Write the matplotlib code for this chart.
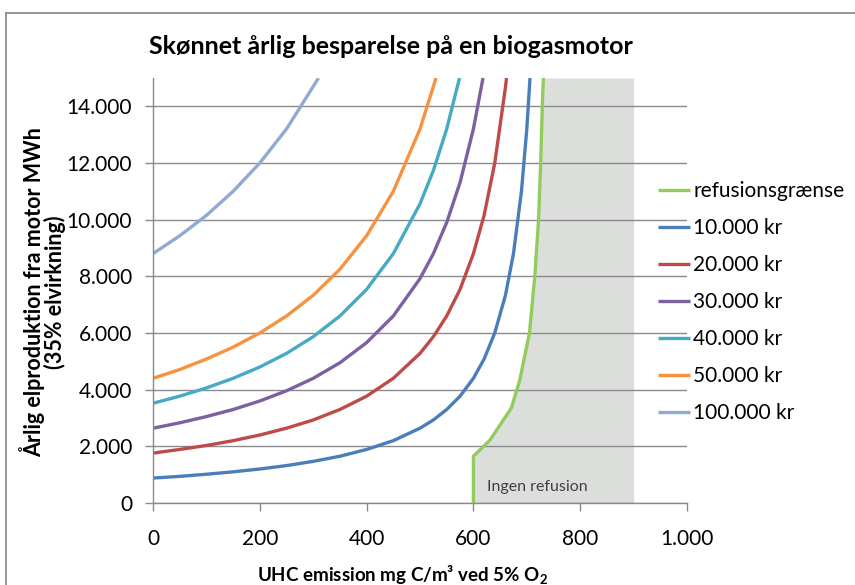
import matplotlib
matplotlib.use('Agg')
import matplotlib.pyplot as plt
from matplotlib.ticker import FuncFormatter, MultipleLocator
from matplotlib.lines import Line2D

plt.rcParams['font.family'] = ['Lato', 'DejaVu Sans']
plt.rcParams['mathtext.fontset'] = 'custom'
plt.rcParams['mathtext.rm'] = 'Lato'
plt.rcParams['mathtext.bf'] = 'Lato:bold'

# ---- data ----
# refusion limit (green) and the area right of it
green_x = [600, 600, 631, 671, 687, 705, 715, 722, 726, 729, 731]
green_y = [0, 1650, 2220, 3350, 4350, 6000, 8000, 10000, 12000, 14000, 15000]
shade_right = 900

# UHC emission values and annual el-production for each saving level
x10 = [0, 50, 100, 150, 200, 250, 300, 350, 400, 450, 500, 525, 550, 575, 600, 620, 640, 660, 675, 690, 700, 706]
y10 = [880, 940, 1015, 1100, 1200, 1320, 1470, 1650, 1890, 2200, 2640, 2930, 3300, 3770, 4400, 5080, 6000, 7330, 8800, 11000, 13200, 15000]

x20 = [0, 50, 100, 150, 200, 250, 300, 350, 400, 450, 500, 525, 550, 575, 600, 620, 640, 660, 662]
y20 = [1760, 1890, 2030, 2200, 2400, 2640, 2930, 3300, 3770, 4400, 5280, 5870, 6600, 7540, 8800, 10150, 12000, 14670, 15000]

x30 = [0, 50, 100, 150, 200, 250, 300, 350, 400, 450, 500, 525, 550, 575, 600, 618]
y30 = [2640, 2830, 3050, 3300, 3600, 3960, 4400, 4950, 5660, 6600, 7920, 8800, 9900, 11310, 13200, 15000]

x40 = [0, 50, 100, 150, 200, 250, 300, 350, 400, 450, 500, 525, 550, 574]
y40 = [3520, 3770, 4060, 4400, 4800, 5280, 5870, 6600, 7540, 8800, 10560, 11730, 13200, 15000]

x50 = [0, 50, 100, 150, 200, 250, 300, 350, 400, 450, 500, 530]
y50 = [4400, 4710, 5080, 5500, 6000, 6600, 7330, 8250, 9430, 11000, 13200, 15000]

x100 = [0, 50, 100, 150, 200, 250, 310]
y100 = [8800, 9430, 10150, 11000, 12000, 13200, 15000]

labels = ['refusionsgrænse', '10.000 kr', '20.000 kr', '30.000 kr',
          '40.000 kr', '50.000 kr', '100.000 kr']
colors = ['#92cc5c', '#4a7ebb', '#be4b48', '#7d60a0', '#46aac5', '#f69240', '#8eabd3']

fig = plt.figure(figsize=(8.55, 5.85), dpi=100)
ax = fig.add_axes([153/855, 1-503/585, (687-153)/855, (503-78)/585])

# outer chart frame (top and left edges visible)
fig.add_artist(Line2D([6/855, 6/855], [0, 1-13/585], color='#8c8c8c', lw=1.3, transform=fig.transFigure))
fig.add_artist(Line2D([6/855, 1], [1-13/585, 1-13/585], color='#8c8c8c', lw=1.3, transform=fig.transFigure))

ax.fill_betweenx(green_y, green_x, shade_right, color='#dcdedc', lw=0, zorder=0.2)

series = [(green_x, green_y), (x10, y10), (x20, y20), (x30, y30),
          (x40, y40), (x50, y50), (x100, y100)]
for (xs, ys), c, lab in zip(series, colors, labels):
    ax.plot(xs, ys, color=c, lw=2.4, label=lab, solid_capstyle='butt', zorder=2)

ax.text(625, 560, 'Ingen refusion', fontsize=11.5, color='#404040', va='center', ha='left')

ax.set_xlim(0, 1000)
ax.set_ylim(0, 15000)
ax.xaxis.set_major_locator(MultipleLocator(200))
ax.yaxis.set_major_locator(MultipleLocator(2000))
fmt = FuncFormatter(lambda v, p: f'{int(v):,}'.replace(',', '.'))
ax.xaxis.set_major_formatter(fmt)
ax.yaxis.set_major_formatter(fmt)
ax.set_axisbelow(True)
ax.grid(True, axis='y', color='#8a8a8a', lw=1.0)
for s in ['top', 'right']:
    ax.spines[s].set_visible(False)
for s in ['left', 'bottom']:
    ax.spines[s].set_color('#8a8a8a')
    ax.spines[s].set_linewidth(1.0)
ax.tick_params(axis='both', colors='#8a8a8a', labelcolor='black', labelsize=15, length=6, width=1.0)
ax.tick_params(axis='x', pad=13)
ax.tick_params(axis='y', pad=9)

fig.text(149/855, 1-47/585, 'Skønnet årlig besparelse på en biogasmotor',
         fontsize=18, fontweight='bold', ha='left', va='center')
fig.text(32/855, 1-292/585, 'Årlig elproduktion fra motor MWh',
         fontsize=15.5, fontweight='bold', rotation=90, ha='center', va='center')
fig.text(55/855, 1-292/585, '(35% elvirkning)',
         fontsize=15.5, fontweight='bold', rotation=90, ha='center', va='center')
fig.text(402/855, 1-575/585, r'UHC emission mg C/m³ ved 5% O$_\mathbf{2}$',
         fontsize=13.5, fontweight='bold', ha='center', va='center')

fig.legend(loc='upper left', bbox_to_anchor=(658/855, 1-181/585), frameon=False,
           fontsize=15, handlelength=1.55, handletextpad=0.15, labelspacing=0.82,
           borderpad=0, borderaxespad=0)

fig.savefig('out.png', dpi=100)
